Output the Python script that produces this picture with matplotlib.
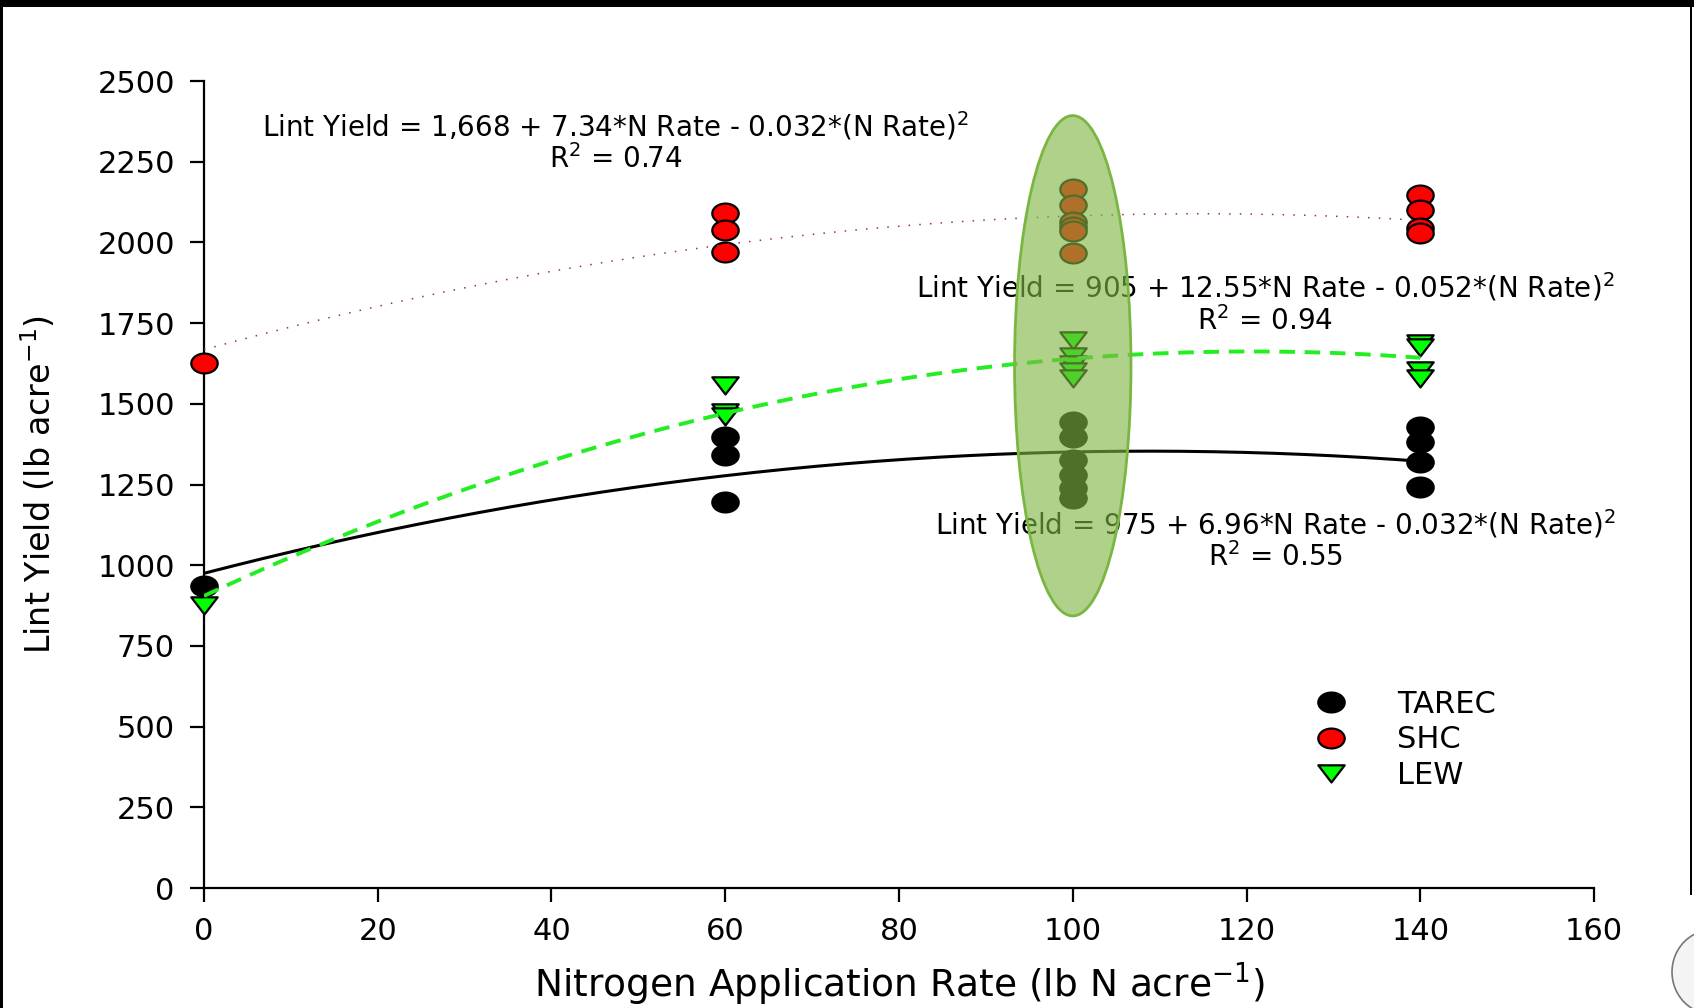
import matplotlib
matplotlib.use("Agg")
import matplotlib.pyplot as plt
import numpy as np
from matplotlib.path import Path
from matplotlib.patches import Ellipse, Rectangle
from matplotlib.lines import Line2D
from matplotlib.colors import to_rgba

# N rates and lint yields per site
tarec_x = [0, 60, 60, 60, 100, 100, 100, 100, 100, 100, 140, 140, 140, 140]
tarec_y = [937, 1398, 1342, 1196, 1444, 1397, 1326, 1279, 1239, 1208, 1429, 1382, 1320, 1242]

shc_x = [0, 60, 60, 60, 100, 100, 100, 100, 100, 100, 140, 140, 140, 140]
shc_y = [1628, 2091, 2039, 1971, 2165, 2115, 2063, 2048, 2035, 1968, 2147, 2100, 2045, 2029]

lew_x = [0, 60, 60, 60, 100, 100, 100, 100, 100, 140, 140, 140, 140]
lew_y = [877, 1558, 1475, 1462, 1697, 1649, 1623, 1602, 1579, 1687, 1677, 1605, 1579]

# quadratic fits: intercept, linear, quadratic
shc_coef = [1668, 7.34, -0.032]
lew_coef = [905, 12.55, -0.052]
tarec_coef = [975, 6.96, -0.032]

shc_r2 = 0.74
lew_r2 = 0.94
tarec_r2 = 0.55

xticks = [0, 20, 40, 60, 80, 100, 120, 140, 160]
yticks = [0, 250, 500, 750, 1000, 1250, 1500, 1750, 2000, 2250, 2500]

# wide oval and wide triangle markers
circ = Path.unit_circle()
oval = Path(circ.vertices * [1.33, 1.0], circ.codes)
tri = Path([(-1.0, 0.62), (1.0, 0.62), (0.0, -0.68), (-1.0, 0.62)],
           [Path.MOVETO, Path.LINETO, Path.LINETO, Path.CLOSEPOLY])

plt.rcParams['font.family'] = ['DejaVu Sans']

fig = plt.figure(figsize=(16.94, 10.08), dpi=100)
ax = fig.add_axes([0.1204, 0.119, 0.8206, 0.8006])

ms = 19
mew = 1.6
ax.plot(tarec_x, tarec_y, ls='none', marker=oval, ms=ms, mfc='black', mec='black',
        mew=mew, clip_on=False, zorder=3)
ax.plot(shc_x, shc_y, ls='none', marker=oval, ms=ms, mfc='#ff0000', mec='black',
        mew=mew, clip_on=False, zorder=3)
ax.plot(lew_x, lew_y, ls='none', marker=tri, ms=ms, mfc='#00ff00', mec='black',
        mew=mew, clip_on=False, zorder=3)

n = np.linspace(0, 140, 200)
def fit(c, n):
    return c[0] + c[1] * n + c[2] * n ** 2

ax.plot(n, fit(tarec_coef, n), color='black', lw=2.2, zorder=4)
ax.plot(n, fit(lew_coef, n), color='#22ee22', lw=2.8, ls=(0, (4, 2.5)), zorder=4)
ax.plot(n, fit(shc_coef, n), color='#a0303a', lw=1.1, ls=(0, (1, 6)), zorder=4)

# equations
eq_fs = 20
def eq_text(x, y, c, r2):
    ax.text(x, y, 'Lint Yield = {:,} + {}*N Rate - {}*(N Rate)$^2$'.format(c[0], c[1], -c[2]),
            ha='center', va='center', fontsize=eq_fs, zorder=5)
    ax.text(x, y - 104, 'R$^2$ = {:.2f}'.format(r2), ha='center', va='center',
            fontsize=eq_fs, zorder=5)

eq_text(47.4, 2361, shc_coef, shc_r2)
eq_text(122.1, 1862, lew_coef, lew_r2)
eq_text(123.3, 1128, tarec_coef, tarec_r2)

# highlight around the 100 lb N rate
ax.add_patch(Ellipse((100, 1618), width=13.4, height=1550,
                     facecolor=to_rgba('#7fb643', 0.62), edgecolor='#7ab642',
                     lw=2, zorder=6))

ax.set_xlim(0, 160)
ax.set_ylim(0, 2500)
ax.set_xticks(xticks)
ax.set_yticks(yticks)
ax.spines['top'].set_visible(False)
ax.spines['right'].set_visible(False)
ax.spines['left'].set_linewidth(1.6)
ax.spines['bottom'].set_linewidth(1.6)
ax.tick_params(direction='out', length=10, width=1.6, labelsize=22, pad=11)

ax.set_xlabel('Nitrogen Application Rate (lb N acre$^{-1}$)', fontsize=27)
ax.xaxis.set_label_coords(0.5, -0.089)
ax.set_ylabel('Lint Yield (lb acre$^{-1}$)', fontsize=24)
ax.yaxis.set_label_coords(-0.105, 0.5)

handles = [
    Line2D([], [], ls='none', marker=oval, ms=ms, mfc='black', mec='black', mew=mew),
    Line2D([], [], ls='none', marker=oval, ms=ms, mfc='#ff0000', mec='black', mew=mew),
    Line2D([], [], ls='none', marker=tri, ms=ms, mfc='#00ff00', mec='black', mew=mew),
]
ax.legend(handles, ['TAREC', 'SHC', 'LEW'], loc='upper left',
          bbox_to_anchor=(0.7731, 0.3155), bbox_transform=fig.transFigure,
          frameon=False, fontsize=22, handlelength=1.4, handletextpad=1.46,
          labelspacing=0.21, borderpad=0, borderaxespad=0)

# slide frame
fig.patches.append(Rectangle((0, 1 - 7 / 1008), 1, 7 / 1008, transform=fig.transFigure,
                             facecolor='black', edgecolor='none'))
fig.patches.append(Rectangle((0, 0), 3 / 1694, 1, transform=fig.transFigure,
                             facecolor='black', edgecolor='none'))
fig.patches.append(Rectangle((1690 / 1694, 0.112), 2 / 1694, 0.888, transform=fig.transFigure,
                             facecolor='black', edgecolor='none'))
fig.patches.append(Ellipse((1712 / 1694, 36 / 1008), 80 / 1694, 84 / 1008,
                           transform=fig.transFigure, facecolor='#f4f4f4',
                           edgecolor='#777777', lw=1.2))

fig.savefig('out.png', dpi=100)
